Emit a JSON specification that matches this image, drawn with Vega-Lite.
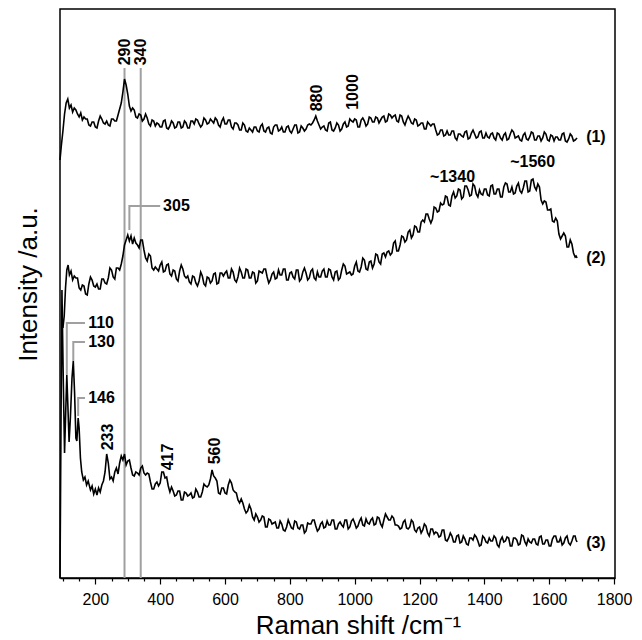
{
  "$schema": "https://vega.github.io/schema/vega-lite/v6.json",
  "width": 555,
  "height": 569,
  "autosize": "none",
  "padding": {"left": 60, "top": 9, "right": 27, "bottom": 62},
  "background": "white",
  "config": {
    "view": {"stroke": "black", "strokeWidth": 1.5},
    "font": "Liberation Sans"
  },
  "datasets": {
    "spectra": [
      {"s":1,"x":91,"i":418},{"s":1,"x":95,"i":432},{"s":1,"x":100,"i":447},{"s":1,"x":105,"i":464},{"s":1,"x":110,"i":475},{"s":1,"x":115,"i":479},{"s":1,"x":120,"i":470},{"s":1,"x":125,"i":473},{"s":1,"x":130,"i":466},{"s":1,"x":135,"i":470},{"s":1,"x":140,"i":468},{"s":1,"x":145,"i":464},{"s":1,"x":150,"i":461},{"s":1,"x":155,"i":465},{"s":1,"x":160,"i":458},{"s":1,"x":165,"i":461},{"s":1,"x":170,"i":459},{"s":1,"x":180,"i":453},{"s":1,"x":190,"i":456},{"s":1,"x":200,"i":451},{"s":1,"x":210,"i":457},{"s":1,"x":220,"i":459},{"s":1,"x":230,"i":454},{"s":1,"x":240,"i":453},{"s":1,"x":250,"i":459},{"s":1,"x":260,"i":457},{"s":1,"x":270,"i":463},{"s":1,"x":275,"i":469},{"s":1,"x":280,"i":475},{"s":1,"x":285,"i":486},{"s":1,"x":290,"i":499},{"s":1,"x":295,"i":493},{"s":1,"x":300,"i":484},{"s":1,"x":305,"i":472},{"s":1,"x":310,"i":467},{"s":1,"x":320,"i":468},{"s":1,"x":330,"i":460},{"s":1,"x":340,"i":463},{"s":1,"x":350,"i":459},{"s":1,"x":360,"i":460},{"s":1,"x":370,"i":452},{"s":1,"x":380,"i":457},{"s":1,"x":390,"i":455},{"s":1,"x":400,"i":451},{"s":1,"x":410,"i":457},{"s":1,"x":420,"i":450},{"s":1,"x":430,"i":452},{"s":1,"x":440,"i":455},{"s":1,"x":450,"i":451},{"s":1,"x":460,"i":456},{"s":1,"x":470,"i":451},{"s":1,"x":480,"i":455},{"s":1,"x":490,"i":450},{"s":1,"x":500,"i":457},{"s":1,"x":510,"i":459},{"s":1,"x":520,"i":454},{"s":1,"x":530,"i":453},{"s":1,"x":540,"i":458},{"s":1,"x":550,"i":455},{"s":1,"x":560,"i":457},{"s":1,"x":570,"i":460},{"s":1,"x":580,"i":453},{"s":1,"x":590,"i":457},{"s":1,"x":600,"i":454},{"s":1,"x":610,"i":458},{"s":1,"x":620,"i":451},{"s":1,"x":630,"i":455},{"s":1,"x":640,"i":453},{"s":1,"x":650,"i":448},{"s":1,"x":660,"i":453},{"s":1,"x":670,"i":446},{"s":1,"x":680,"i":448},{"s":1,"x":690,"i":451},{"s":1,"x":700,"i":447},{"s":1,"x":710,"i":452},{"s":1,"x":720,"i":447},{"s":1,"x":730,"i":450},{"s":1,"x":740,"i":445},{"s":1,"x":750,"i":451},{"s":1,"x":760,"i":453},{"s":1,"x":770,"i":448},{"s":1,"x":780,"i":446},{"s":1,"x":790,"i":451},{"s":1,"x":800,"i":447},{"s":1,"x":810,"i":449},{"s":1,"x":820,"i":453},{"s":1,"x":830,"i":446},{"s":1,"x":840,"i":450},{"s":1,"x":850,"i":449},{"s":1,"x":860,"i":454},{"s":1,"x":870,"i":455},{"s":1,"x":880,"i":462},{"s":1,"x":890,"i":453},{"s":1,"x":900,"i":451},{"s":1,"x":910,"i":448},{"s":1,"x":920,"i":455},{"s":1,"x":930,"i":448},{"s":1,"x":940,"i":450},{"s":1,"x":950,"i":453},{"s":1,"x":960,"i":449},{"s":1,"x":970,"i":456},{"s":1,"x":980,"i":452},{"s":1,"x":990,"i":457},{"s":1,"x":1000,"i":459},{"s":1,"x":1010,"i":451},{"s":1,"x":1020,"i":458},{"s":1,"x":1030,"i":457},{"s":1,"x":1040,"i":454},{"s":1,"x":1050,"i":460},{"s":1,"x":1060,"i":456},{"s":1,"x":1070,"i":460},{"s":1,"x":1080,"i":458},{"s":1,"x":1090,"i":462},{"s":1,"x":1100,"i":457},{"s":1,"x":1110,"i":463},{"s":1,"x":1120,"i":462},{"s":1,"x":1130,"i":457},{"s":1,"x":1140,"i":463},{"s":1,"x":1150,"i":456},{"s":1,"x":1160,"i":458},{"s":1,"x":1170,"i":459},{"s":1,"x":1180,"i":454},{"s":1,"x":1190,"i":458},{"s":1,"x":1200,"i":453},{"s":1,"x":1210,"i":455},{"s":1,"x":1220,"i":449},{"s":1,"x":1230,"i":454},{"s":1,"x":1240,"i":454},{"s":1,"x":1250,"i":448},{"s":1,"x":1260,"i":444},{"s":1,"x":1270,"i":448},{"s":1,"x":1280,"i":443},{"s":1,"x":1290,"i":443},{"s":1,"x":1300,"i":447},{"s":1,"x":1310,"i":440},{"s":1,"x":1320,"i":444},{"s":1,"x":1330,"i":442},{"s":1,"x":1340,"i":446},{"s":1,"x":1350,"i":439},{"s":1,"x":1360,"i":445},{"s":1,"x":1370,"i":444},{"s":1,"x":1380,"i":441},{"s":1,"x":1390,"i":447},{"s":1,"x":1400,"i":440},{"s":1,"x":1410,"i":441},{"s":1,"x":1420,"i":444},{"s":1,"x":1430,"i":440},{"s":1,"x":1440,"i":445},{"s":1,"x":1450,"i":440},{"s":1,"x":1460,"i":443},{"s":1,"x":1470,"i":438},{"s":1,"x":1480,"i":444},{"s":1,"x":1490,"i":446},{"s":1,"x":1500,"i":441},{"s":1,"x":1510,"i":438},{"s":1,"x":1520,"i":443},{"s":1,"x":1530,"i":439},{"s":1,"x":1540,"i":441},{"s":1,"x":1550,"i":445},{"s":1,"x":1560,"i":438},{"s":1,"x":1570,"i":442},{"s":1,"x":1580,"i":440},{"s":1,"x":1590,"i":444},{"s":1,"x":1600,"i":437},{"s":1,"x":1610,"i":442},{"s":1,"x":1620,"i":441},{"s":1,"x":1630,"i":438},{"s":1,"x":1640,"i":444},{"s":1,"x":1650,"i":437},{"s":1,"x":1660,"i":439},{"s":1,"x":1670,"i":442},{"s":1,"x":1680,"i":438},{"s":1,"x":1686,"i":440},
      {"s":1,"x":175,"i":459},{"s":1,"x":185,"i":452},{"s":1,"x":195,"i":456},{"s":1,"x":205,"i":450},{"s":1,"x":215,"i":462},{"s":1,"x":225,"i":455},{"s":1,"x":235,"i":457},{"s":1,"x":245,"i":452},{"s":1,"x":255,"i":459},{"s":1,"x":265,"i":457},
      {"s":1,"x":315,"i":470},{"s":1,"x":325,"i":461},{"s":1,"x":335,"i":464},{"s":1,"x":345,"i":457},{"s":1,"x":355,"i":464},{"s":1,"x":365,"i":454},{"s":1,"x":375,"i":458},{"s":1,"x":385,"i":452},{"s":1,"x":395,"i":454},{"s":1,"x":405,"i":451},{"s":1,"x":415,"i":458},{"s":1,"x":425,"i":449},{"s":1,"x":435,"i":457},{"s":1,"x":445,"i":450},{"s":1,"x":455,"i":456},{"s":1,"x":465,"i":450},{"s":1,"x":475,"i":457},{"s":1,"x":485,"i":450},{"s":1,"x":495,"i":457},{"s":1,"x":505,"i":454},{"s":1,"x":515,"i":458},{"s":1,"x":525,"i":451},{"s":1,"x":535,"i":460},{"s":1,"x":545,"i":454},{"s":1,"x":555,"i":459},{"s":1,"x":565,"i":455},{"s":1,"x":575,"i":458},{"s":1,"x":585,"i":451},{"s":1,"x":595,"i":460},{"s":1,"x":605,"i":454},{"s":1,"x":615,"i":458},{"s":1,"x":625,"i":449},{"s":1,"x":635,"i":455},{"s":1,"x":645,"i":448},{"s":1,"x":655,"i":455},{"s":1,"x":665,"i":447},{"s":1,"x":675,"i":450},{"s":1,"x":685,"i":446},{"s":1,"x":695,"i":451},{"s":1,"x":705,"i":446},{"s":1,"x":715,"i":454},{"s":1,"x":725,"i":446},{"s":1,"x":735,"i":451},{"s":1,"x":745,"i":444},{"s":1,"x":755,"i":453},{"s":1,"x":765,"i":447},{"s":1,"x":775,"i":451},{"s":1,"x":785,"i":446},{"s":1,"x":795,"i":452},{"s":1,"x":805,"i":445},{"s":1,"x":815,"i":453},{"s":1,"x":825,"i":445},{"s":1,"x":835,"i":452},{"s":1,"x":845,"i":447},{"s":1,"x":855,"i":453},{"s":1,"x":865,"i":453},{"s":1,"x":875,"i":458},{"s":1,"x":885,"i":457},{"s":1,"x":895,"i":449},{"s":1,"x":905,"i":452},{"s":1,"x":915,"i":447},{"s":1,"x":925,"i":456},{"s":1,"x":935,"i":447},{"s":1,"x":945,"i":455},{"s":1,"x":955,"i":447},{"s":1,"x":965,"i":454},{"s":1,"x":975,"i":451},{"s":1,"x":985,"i":459},{"s":1,"x":995,"i":456},{"s":1,"x":1005,"i":458},{"s":1,"x":1015,"i":451},{"s":1,"x":1025,"i":460},{"s":1,"x":1035,"i":452},{"s":1,"x":1045,"i":461},{"s":1,"x":1055,"i":456},{"s":1,"x":1065,"i":461},{"s":1,"x":1075,"i":455},{"s":1,"x":1085,"i":461},{"s":1,"x":1095,"i":456},{"s":1,"x":1105,"i":464},{"s":1,"x":1115,"i":460},{"s":1,"x":1125,"i":463},{"s":1,"x":1135,"i":456},{"s":1,"x":1145,"i":462},{"s":1,"x":1155,"i":453},{"s":1,"x":1165,"i":462},{"s":1,"x":1175,"i":455},{"s":1,"x":1185,"i":459},{"s":1,"x":1195,"i":452},{"s":1,"x":1205,"i":455},{"s":1,"x":1215,"i":449},{"s":1,"x":1225,"i":456},{"s":1,"x":1235,"i":452},{"s":1,"x":1245,"i":454},{"s":1,"x":1255,"i":443},{"s":1,"x":1265,"i":448},{"s":1,"x":1275,"i":442},{"s":1,"x":1285,"i":447},{"s":1,"x":1295,"i":443},{"s":1,"x":1305,"i":447},{"s":1,"x":1315,"i":438},{"s":1,"x":1325,"i":444},{"s":1,"x":1335,"i":441},{"s":1,"x":1345,"i":447},{"s":1,"x":1355,"i":440},{"s":1,"x":1365,"i":448},{"s":1,"x":1375,"i":440},{"s":1,"x":1385,"i":446},{"s":1,"x":1395,"i":440},{"s":1,"x":1405,"i":445},{"s":1,"x":1415,"i":440},{"s":1,"x":1425,"i":445},{"s":1,"x":1435,"i":438},{"s":1,"x":1445,"i":444},{"s":1,"x":1455,"i":438},{"s":1,"x":1465,"i":445},{"s":1,"x":1475,"i":439},{"s":1,"x":1485,"i":448},{"s":1,"x":1495,"i":440},{"s":1,"x":1505,"i":442},{"s":1,"x":1515,"i":437},{"s":1,"x":1525,"i":445},{"s":1,"x":1535,"i":438},{"s":1,"x":1545,"i":446},{"s":1,"x":1555,"i":438},{"s":1,"x":1565,"i":442},{"s":1,"x":1575,"i":437},{"s":1,"x":1585,"i":446},{"s":1,"x":1595,"i":438},{"s":1,"x":1605,"i":443},{"s":1,"x":1615,"i":437},{"s":1,"x":1625,"i":441},{"s":1,"x":1635,"i":438},{"s":1,"x":1645,"i":445},{"s":1,"x":1655,"i":436},{"s":1,"x":1665,"i":444},{"s":1,"x":1675,"i":437},{"s":1,"x":1683,"i":439},

      {"s":2,"x":100,"i":250},{"s":2,"x":104,"i":262},{"s":2,"x":108,"i":290},{"s":2,"x":112,"i":308},{"s":2,"x":116,"i":313},{"s":2,"x":120,"i":303},{"s":2,"x":125,"i":307},{"s":2,"x":130,"i":298},{"s":2,"x":135,"i":302},{"s":2,"x":140,"i":300},{"s":2,"x":150,"i":290},{"s":2,"x":160,"i":293},{"s":2,"x":170,"i":284},{"s":2,"x":180,"i":294},{"s":2,"x":190,"i":298},{"s":2,"x":200,"i":291},{"s":2,"x":210,"i":289},{"s":2,"x":220,"i":299},{"s":2,"x":230,"i":295},{"s":2,"x":240,"i":300},{"s":2,"x":250,"i":308},{"s":2,"x":260,"i":299},{"s":2,"x":270,"i":310},{"s":2,"x":280,"i":314},{"s":2,"x":290,"i":333},{"s":2,"x":300,"i":343},{"s":2,"x":305,"i":337},{"s":2,"x":310,"i":342},{"s":2,"x":315,"i":334},{"s":2,"x":320,"i":340},{"s":2,"x":330,"i":333},{"s":2,"x":340,"i":338},{"s":2,"x":350,"i":328},{"s":2,"x":360,"i":317},{"s":2,"x":370,"i":322},{"s":2,"x":380,"i":308},{"s":2,"x":390,"i":309},{"s":2,"x":400,"i":313},{"s":2,"x":410,"i":306},{"s":2,"x":420,"i":313},{"s":2,"x":430,"i":304},{"s":2,"x":440,"i":308},{"s":2,"x":450,"i":299},{"s":2,"x":460,"i":307},{"s":2,"x":470,"i":309},{"s":2,"x":480,"i":300},{"s":2,"x":490,"i":296},{"s":2,"x":500,"i":302},{"s":2,"x":510,"i":295},{"s":2,"x":520,"i":297},{"s":2,"x":530,"i":302},{"s":2,"x":540,"i":292},{"s":2,"x":550,"i":300},{"s":2,"x":560,"i":297},{"s":2,"x":570,"i":305},{"s":2,"x":580,"i":295},{"s":2,"x":590,"i":305},{"s":2,"x":600,"i":305},{"s":2,"x":610,"i":300},{"s":2,"x":620,"i":309},{"s":2,"x":630,"i":298},{"s":2,"x":640,"i":301},{"s":2,"x":650,"i":306},{"s":2,"x":660,"i":300},{"s":2,"x":670,"i":308},{"s":2,"x":680,"i":300},{"s":2,"x":690,"i":305},{"s":2,"x":700,"i":297},{"s":2,"x":710,"i":306},{"s":2,"x":720,"i":309},{"s":2,"x":730,"i":301},{"s":2,"x":740,"i":298},{"s":2,"x":750,"i":306},{"s":2,"x":760,"i":300},{"s":2,"x":770,"i":303},{"s":2,"x":780,"i":309},{"s":2,"x":790,"i":298},{"s":2,"x":800,"i":305},{"s":2,"x":810,"i":301},{"s":2,"x":820,"i":308},{"s":2,"x":830,"i":297},{"s":2,"x":840,"i":306},{"s":2,"x":850,"i":305},{"s":2,"x":860,"i":300},{"s":2,"x":870,"i":309},{"s":2,"x":880,"i":298},{"s":2,"x":890,"i":301},{"s":2,"x":900,"i":307},{"s":2,"x":910,"i":301},{"s":2,"x":920,"i":309},{"s":2,"x":930,"i":301},{"s":2,"x":940,"i":306},{"s":2,"x":950,"i":298},{"s":2,"x":960,"i":308},{"s":2,"x":970,"i":312},{"s":2,"x":980,"i":305},{"s":2,"x":990,"i":303},{"s":2,"x":1000,"i":312},{"s":2,"x":1010,"i":307},{"s":2,"x":1020,"i":311},{"s":2,"x":1030,"i":318},{"s":2,"x":1040,"i":308},{"s":2,"x":1050,"i":317},{"s":2,"x":1060,"i":314},{"s":2,"x":1070,"i":323},{"s":2,"x":1080,"i":314},{"s":2,"x":1090,"i":325},{"s":2,"x":1100,"i":326},{"s":2,"x":1110,"i":323},{"s":2,"x":1120,"i":335},{"s":2,"x":1130,"i":327},{"s":2,"x":1140,"i":333},{"s":2,"x":1150,"i":341},{"s":2,"x":1160,"i":338},{"s":2,"x":1170,"i":348},{"s":2,"x":1180,"i":343},{"s":2,"x":1190,"i":351},{"s":2,"x":1200,"i":346},{"s":2,"x":1210,"i":358},{"s":2,"x":1220,"i":364},{"s":2,"x":1230,"i":359},{"s":2,"x":1240,"i":359},{"s":2,"x":1250,"i":370},{"s":2,"x":1260,"i":367},{"s":2,"x":1270,"i":373},{"s":2,"x":1280,"i":382},{"s":2,"x":1290,"i":373},{"s":2,"x":1300,"i":382},{"s":2,"x":1310,"i":380},{"s":2,"x":1320,"i":389},{"s":2,"x":1330,"i":379},{"s":2,"x":1340,"i":392},{"s":2,"x":1350,"i":388},{"s":2,"x":1360,"i":383},{"s":2,"x":1370,"i":392},{"s":2,"x":1380,"i":381},{"s":2,"x":1390,"i":384},{"s":2,"x":1400,"i":389},{"s":2,"x":1410,"i":383},{"s":2,"x":1420,"i":392},{"s":2,"x":1430,"i":384},{"s":2,"x":1440,"i":389},{"s":2,"x":1450,"i":381},{"s":2,"x":1460,"i":391},{"s":2,"x":1470,"i":394},{"s":2,"x":1480,"i":386},{"s":2,"x":1490,"i":384},{"s":2,"x":1500,"i":392},{"s":2,"x":1510,"i":387},{"s":2,"x":1520,"i":390},{"s":2,"x":1530,"i":397},{"s":2,"x":1540,"i":387},{"s":2,"x":1550,"i":399},{"s":2,"x":1560,"i":388},{"s":2,"x":1570,"i":391},{"s":2,"x":1580,"i":374},{"s":2,"x":1590,"i":376},{"s":2,"x":1600,"i":368},{"s":2,"x":1610,"i":357},{"s":2,"x":1620,"i":360},{"s":2,"x":1630,"i":344},{"s":2,"x":1640,"i":342},{"s":2,"x":1650,"i":342},{"s":2,"x":1660,"i":331},{"s":2,"x":1670,"i":334},{"s":2,"x":1680,"i":321},{"s":2,"x":1686,"i":320},
      {"s":2,"x":145,"i":300},{"s":2,"x":155,"i":288},{"s":2,"x":165,"i":292},{"s":2,"x":175,"i":283},{"s":2,"x":185,"i":301},{"s":2,"x":195,"i":292},{"s":2,"x":205,"i":294},{"s":2,"x":215,"i":289},{"s":2,"x":225,"i":299},{"s":2,"x":235,"i":294},{"s":2,"x":245,"i":310},{"s":2,"x":255,"i":301},{"s":2,"x":265,"i":310},{"s":2,"x":275,"i":308},{"s":2,"x":285,"i":322},{"s":2,"x":295,"i":338},{"s":2,"x":325,"i":335},{"s":2,"x":335,"i":330},{"s":2,"x":345,"i":338},{"s":2,"x":355,"i":320},{"s":2,"x":365,"i":324},{"s":2,"x":375,"i":310},{"s":2,"x":385,"i":311},{"s":2,"x":395,"i":307},{"s":2,"x":405,"i":316},{"s":2,"x":415,"i":307},{"s":2,"x":425,"i":314},{"s":2,"x":435,"i":302},{"s":2,"x":445,"i":307},{"s":2,"x":455,"i":297},{"s":2,"x":465,"i":313},{"s":2,"x":475,"i":302},{"s":2,"x":485,"i":302},{"s":2,"x":495,"i":294},{"s":2,"x":505,"i":301},{"s":2,"x":515,"i":292},{"s":2,"x":525,"i":306},{"s":2,"x":535,"i":294},{"s":2,"x":545,"i":301},{"s":2,"x":555,"i":295},{"s":2,"x":565,"i":304},{"s":2,"x":575,"i":294},{"s":2,"x":585,"i":305},{"s":2,"x":595,"i":302},{"s":2,"x":605,"i":307},{"s":2,"x":615,"i":300},{"s":2,"x":625,"i":306},{"s":2,"x":635,"i":296},{"s":2,"x":645,"i":310},{"s":2,"x":655,"i":300},{"s":2,"x":665,"i":309},{"s":2,"x":675,"i":300},{"s":2,"x":685,"i":306},{"s":2,"x":695,"i":295},{"s":2,"x":705,"i":307},{"s":2,"x":715,"i":305},{"s":2,"x":725,"i":309},{"s":2,"x":735,"i":295},{"s":2,"x":745,"i":304},{"s":2,"x":755,"i":299},{"s":2,"x":765,"i":308},{"s":2,"x":775,"i":303},{"s":2,"x":785,"i":309},{"s":2,"x":795,"i":298},{"s":2,"x":805,"i":306},{"s":2,"x":815,"i":299},{"s":2,"x":825,"i":308},{"s":2,"x":835,"i":299},{"s":2,"x":845,"i":310},{"s":2,"x":855,"i":298},{"s":2,"x":865,"i":307},{"s":2,"x":875,"i":300},{"s":2,"x":885,"i":306},{"s":2,"x":895,"i":301},{"s":2,"x":905,"i":309},{"s":2,"x":915,"i":301},{"s":2,"x":925,"i":308},{"s":2,"x":935,"i":298},{"s":2,"x":945,"i":307},{"s":2,"x":955,"i":300},{"s":2,"x":965,"i":314},{"s":2,"x":975,"i":304},{"s":2,"x":985,"i":306},{"s":2,"x":995,"i":304},{"s":2,"x":1005,"i":316},{"s":2,"x":1015,"i":306},{"s":2,"x":1025,"i":320},{"s":2,"x":1035,"i":309},{"s":2,"x":1045,"i":316},{"s":2,"x":1055,"i":310},{"s":2,"x":1065,"i":324},{"s":2,"x":1075,"i":316},{"s":2,"x":1085,"i":324},{"s":2,"x":1095,"i":321},{"s":2,"x":1105,"i":327},{"s":2,"x":1115,"i":325},{"s":2,"x":1125,"i":337},{"s":2,"x":1135,"i":327},{"s":2,"x":1145,"i":342},{"s":2,"x":1155,"i":336},{"s":2,"x":1165,"i":346},{"s":2,"x":1175,"i":340},{"s":2,"x":1185,"i":352},{"s":2,"x":1195,"i":346},{"s":2,"x":1205,"i":356},{"s":2,"x":1215,"i":356},{"s":2,"x":1225,"i":364},{"s":2,"x":1235,"i":355},{"s":2,"x":1245,"i":371},{"s":2,"x":1255,"i":366},{"s":2,"x":1265,"i":375},{"s":2,"x":1275,"i":374},{"s":2,"x":1285,"i":381},{"s":2,"x":1295,"i":372},{"s":2,"x":1305,"i":386},{"s":2,"x":1315,"i":382},{"s":2,"x":1325,"i":388},{"s":2,"x":1335,"i":381},{"s":2,"x":1345,"i":392},{"s":2,"x":1355,"i":382},{"s":2,"x":1365,"i":394},{"s":2,"x":1375,"i":384},{"s":2,"x":1385,"i":388},{"s":2,"x":1395,"i":383},{"s":2,"x":1405,"i":389},{"s":2,"x":1415,"i":382},{"s":2,"x":1425,"i":393},{"s":2,"x":1435,"i":384},{"s":2,"x":1445,"i":389},{"s":2,"x":1455,"i":381},{"s":2,"x":1465,"i":395},{"s":2,"x":1475,"i":386},{"s":2,"x":1485,"i":391},{"s":2,"x":1495,"i":385},{"s":2,"x":1505,"i":395},{"s":2,"x":1515,"i":385},{"s":2,"x":1525,"i":397},{"s":2,"x":1535,"i":386},{"s":2,"x":1545,"i":398},{"s":2,"x":1555,"i":391},{"s":2,"x":1565,"i":394},{"s":2,"x":1575,"i":378},{"s":2,"x":1585,"i":377},{"s":2,"x":1595,"i":368},{"s":2,"x":1605,"i":369},{"s":2,"x":1615,"i":356},{"s":2,"x":1625,"i":357},{"s":2,"x":1635,"i":339},{"s":2,"x":1645,"i":345},{"s":2,"x":1655,"i":331},{"s":2,"x":1665,"i":338},{"s":2,"x":1675,"i":325},{"s":2,"x":1683,"i":322},

      {"s":3,"x":91,"i":0},{"s":3,"x":94,"i":150},{"s":3,"x":97,"i":288},{"s":3,"x":101,"i":200},{"s":3,"x":105,"i":125},{"s":3,"x":109,"i":170},{"s":3,"x":112,"i":203},{"s":3,"x":115,"i":175},{"s":3,"x":119,"i":136},{"s":3,"x":123,"i":160},{"s":3,"x":128,"i":200},{"s":3,"x":132,"i":217},{"s":3,"x":136,"i":185},{"s":3,"x":140,"i":140},{"s":3,"x":143,"i":137},{"s":3,"x":147,"i":160},{"s":3,"x":150,"i":150},{"s":3,"x":154,"i":120},{"s":3,"x":158,"i":106},{"s":3,"x":163,"i":98},{"s":3,"x":168,"i":101},{"s":3,"x":173,"i":93},{"s":3,"x":178,"i":97},{"s":3,"x":185,"i":88},{"s":3,"x":190,"i":92},{"s":3,"x":195,"i":84},{"s":3,"x":200,"i":89},{"s":3,"x":205,"i":83},{"s":3,"x":210,"i":90},{"s":3,"x":215,"i":86},{"s":3,"x":220,"i":93},{"s":3,"x":225,"i":97},{"s":3,"x":230,"i":106},{"s":3,"x":235,"i":124},{"s":3,"x":240,"i":115},{"s":3,"x":245,"i":99},{"s":3,"x":250,"i":101},{"s":3,"x":255,"i":97},{"s":3,"x":260,"i":106},{"s":3,"x":265,"i":110},{"s":3,"x":270,"i":104},{"s":3,"x":275,"i":115},{"s":3,"x":280,"i":122},{"s":3,"x":285,"i":118},{"s":3,"x":290,"i":124},{"s":3,"x":295,"i":113},{"s":3,"x":300,"i":117},{"s":3,"x":310,"i":110},{"s":3,"x":320,"i":102},{"s":3,"x":330,"i":105},{"s":3,"x":340,"i":110},{"s":3,"x":350,"i":105},{"s":3,"x":360,"i":105},{"s":3,"x":370,"i":96},{"s":3,"x":380,"i":89},{"s":3,"x":390,"i":96},{"s":3,"x":400,"i":95},{"s":3,"x":410,"i":106},{"s":3,"x":415,"i":100},{"s":3,"x":420,"i":101},{"s":3,"x":430,"i":86},{"s":3,"x":440,"i":87},{"s":3,"x":450,"i":83},{"s":3,"x":460,"i":87},{"s":3,"x":470,"i":78},{"s":3,"x":480,"i":85},{"s":3,"x":490,"i":83},{"s":3,"x":500,"i":80},{"s":3,"x":510,"i":89},{"s":3,"x":520,"i":81},{"s":3,"x":530,"i":86},{"s":3,"x":540,"i":92},{"s":3,"x":550,"i":93},{"s":3,"x":560,"i":108},{"s":3,"x":565,"i":102},{"s":3,"x":570,"i":100},{"s":3,"x":580,"i":85},{"s":3,"x":590,"i":90},{"s":3,"x":600,"i":85},{"s":3,"x":610,"i":93},{"s":3,"x":620,"i":95},{"s":3,"x":630,"i":86},{"s":3,"x":640,"i":78},{"s":3,"x":650,"i":79},{"s":3,"x":660,"i":69},{"s":3,"x":670,"i":67},{"s":3,"x":680,"i":69},{"s":3,"x":690,"i":58},{"s":3,"x":700,"i":61},{"s":3,"x":710,"i":58},{"s":3,"x":720,"i":61},{"s":3,"x":730,"i":51},{"s":3,"x":740,"i":58},{"s":3,"x":750,"i":55},{"s":3,"x":760,"i":50},{"s":3,"x":770,"i":57},{"s":3,"x":780,"i":48},{"s":3,"x":790,"i":51},{"s":3,"x":800,"i":54},{"s":3,"x":810,"i":49},{"s":3,"x":820,"i":56},{"s":3,"x":830,"i":49},{"s":3,"x":840,"i":53},{"s":3,"x":850,"i":47},{"s":3,"x":860,"i":54},{"s":3,"x":870,"i":58},{"s":3,"x":880,"i":52},{"s":3,"x":890,"i":49},{"s":3,"x":900,"i":56},{"s":3,"x":910,"i":51},{"s":3,"x":920,"i":53},{"s":3,"x":930,"i":58},{"s":3,"x":940,"i":49},{"s":3,"x":950,"i":54},{"s":3,"x":960,"i":53},{"s":3,"x":970,"i":58},{"s":3,"x":980,"i":49},{"s":3,"x":990,"i":57},{"s":3,"x":1000,"i":55},{"s":3,"x":1010,"i":52},{"s":3,"x":1020,"i":60},{"s":3,"x":1030,"i":52},{"s":3,"x":1040,"i":55},{"s":3,"x":1050,"i":58},{"s":3,"x":1060,"i":53},{"s":3,"x":1070,"i":61},{"s":3,"x":1080,"i":54},{"s":3,"x":1090,"i":58},{"s":3,"x":1100,"i":61},{"s":3,"x":1110,"i":58},{"s":3,"x":1120,"i":60},{"s":3,"x":1130,"i":53},{"s":3,"x":1140,"i":49},{"s":3,"x":1150,"i":56},{"s":3,"x":1160,"i":50},{"s":3,"x":1170,"i":51},{"s":3,"x":1180,"i":56},{"s":3,"x":1190,"i":46},{"s":3,"x":1200,"i":51},{"s":3,"x":1210,"i":48},{"s":3,"x":1220,"i":52},{"s":3,"x":1230,"i":42},{"s":3,"x":1240,"i":49},{"s":3,"x":1250,"i":46},{"s":3,"x":1260,"i":41},{"s":3,"x":1270,"i":48},{"s":3,"x":1280,"i":38},{"s":3,"x":1290,"i":40},{"s":3,"x":1300,"i":42},{"s":3,"x":1310,"i":36},{"s":3,"x":1320,"i":43},{"s":3,"x":1330,"i":36},{"s":3,"x":1340,"i":39},{"s":3,"x":1350,"i":33},{"s":3,"x":1360,"i":40},{"s":3,"x":1370,"i":43},{"s":3,"x":1380,"i":37},{"s":3,"x":1390,"i":33},{"s":3,"x":1400,"i":40},{"s":3,"x":1410,"i":35},{"s":3,"x":1420,"i":37},{"s":3,"x":1430,"i":42},{"s":3,"x":1440,"i":33},{"s":3,"x":1450,"i":38},{"s":3,"x":1460,"i":36},{"s":3,"x":1470,"i":41},{"s":3,"x":1480,"i":32},{"s":3,"x":1490,"i":40},{"s":3,"x":1500,"i":38},{"s":3,"x":1510,"i":34},{"s":3,"x":1520,"i":42},{"s":3,"x":1530,"i":33},{"s":3,"x":1540,"i":36},{"s":3,"x":1550,"i":39},{"s":3,"x":1560,"i":34},{"s":3,"x":1570,"i":41},{"s":3,"x":1580,"i":34},{"s":3,"x":1590,"i":38},{"s":3,"x":1600,"i":32},{"s":3,"x":1610,"i":39},{"s":3,"x":1620,"i":42},{"s":3,"x":1630,"i":36},{"s":3,"x":1640,"i":33},{"s":3,"x":1650,"i":40},{"s":3,"x":1660,"i":35},{"s":3,"x":1670,"i":37},{"s":3,"x":1680,"i":42},{"s":3,"x":1686,"i":36},
      {"s":3,"x":305,"i":118},{"s":3,"x":315,"i":103},{"s":3,"x":325,"i":106},{"s":3,"x":335,"i":103},{"s":3,"x":345,"i":112},{"s":3,"x":355,"i":103},{"s":3,"x":365,"i":104},{"s":3,"x":375,"i":89},{"s":3,"x":385,"i":94},{"s":3,"x":395,"i":92},{"s":3,"x":405,"i":106},{"s":3,"x":425,"i":92},{"s":3,"x":435,"i":91},{"s":3,"x":445,"i":82},{"s":3,"x":455,"i":87},{"s":3,"x":465,"i":78},{"s":3,"x":475,"i":86},{"s":3,"x":485,"i":82},{"s":3,"x":495,"i":85},{"s":3,"x":505,"i":81},{"s":3,"x":515,"i":86},{"s":3,"x":525,"i":81},{"s":3,"x":535,"i":94},{"s":3,"x":545,"i":91},{"s":3,"x":555,"i":99},{"s":3,"x":575,"i":97},{"s":3,"x":585,"i":84},{"s":3,"x":595,"i":90},{"s":3,"x":605,"i":84},{"s":3,"x":615,"i":98},{"s":3,"x":625,"i":88},{"s":3,"x":635,"i":85},{"s":3,"x":645,"i":75},{"s":3,"x":655,"i":75},{"s":3,"x":665,"i":65},{"s":3,"x":675,"i":73},{"s":3,"x":685,"i":61},{"s":3,"x":695,"i":64},{"s":3,"x":705,"i":56},{"s":3,"x":715,"i":62},{"s":3,"x":725,"i":51},{"s":3,"x":735,"i":59},{"s":3,"x":745,"i":54},{"s":3,"x":755,"i":56},{"s":3,"x":765,"i":50},{"s":3,"x":775,"i":54},{"s":3,"x":785,"i":47},{"s":3,"x":795,"i":58},{"s":3,"x":805,"i":50},{"s":3,"x":815,"i":57},{"s":3,"x":825,"i":50},{"s":3,"x":835,"i":53},{"s":3,"x":845,"i":45},{"s":3,"x":855,"i":55},{"s":3,"x":865,"i":54},{"s":3,"x":875,"i":58},{"s":3,"x":885,"i":47},{"s":3,"x":895,"i":54},{"s":3,"x":905,"i":50},{"s":3,"x":915,"i":57},{"s":3,"x":925,"i":53},{"s":3,"x":935,"i":58},{"s":3,"x":945,"i":49},{"s":3,"x":955,"i":56},{"s":3,"x":965,"i":51},{"s":3,"x":975,"i":58},{"s":3,"x":985,"i":51},{"s":3,"x":995,"i":59},{"s":3,"x":1005,"i":50},{"s":3,"x":1015,"i":57},{"s":3,"x":1025,"i":53},{"s":3,"x":1035,"i":59},{"s":3,"x":1045,"i":54},{"s":3,"x":1055,"i":60},{"s":3,"x":1065,"i":54},{"s":3,"x":1075,"i":60},{"s":3,"x":1085,"i":51},{"s":3,"x":1095,"i":64},{"s":3,"x":1105,"i":58},{"s":3,"x":1115,"i":62},{"s":3,"x":1125,"i":53},{"s":3,"x":1135,"i":52},{"s":3,"x":1145,"i":50},{"s":3,"x":1155,"i":58},{"s":3,"x":1165,"i":49},{"s":3,"x":1175,"i":58},{"s":3,"x":1185,"i":48},{"s":3,"x":1195,"i":50},{"s":3,"x":1205,"i":45},{"s":3,"x":1215,"i":54},{"s":3,"x":1225,"i":45},{"s":3,"x":1235,"i":49},{"s":3,"x":1245,"i":44},{"s":3,"x":1255,"i":45},{"s":3,"x":1265,"i":42},{"s":3,"x":1275,"i":48},{"s":3,"x":1285,"i":37},{"s":3,"x":1295,"i":45},{"s":3,"x":1305,"i":36},{"s":3,"x":1315,"i":42},{"s":3,"x":1325,"i":35},{"s":3,"x":1335,"i":42},{"s":3,"x":1345,"i":34},{"s":3,"x":1355,"i":40},{"s":3,"x":1365,"i":38},{"s":3,"x":1375,"i":41},{"s":3,"x":1385,"i":32},{"s":3,"x":1395,"i":42},{"s":3,"x":1405,"i":36},{"s":3,"x":1415,"i":40},{"s":3,"x":1425,"i":37},{"s":3,"x":1435,"i":40},{"s":3,"x":1445,"i":31},{"s":3,"x":1455,"i":41},{"s":3,"x":1465,"i":37},{"s":3,"x":1475,"i":40},{"s":3,"x":1485,"i":32},{"s":3,"x":1495,"i":40},{"s":3,"x":1505,"i":33},{"s":3,"x":1515,"i":43},{"s":3,"x":1525,"i":36},{"s":3,"x":1535,"i":39},{"s":3,"x":1545,"i":35},{"s":3,"x":1555,"i":39},{"s":3,"x":1565,"i":33},{"s":3,"x":1575,"i":42},{"s":3,"x":1585,"i":34},{"s":3,"x":1595,"i":38},{"s":3,"x":1605,"i":32},{"s":3,"x":1615,"i":42},{"s":3,"x":1625,"i":36},{"s":3,"x":1635,"i":40},{"s":3,"x":1645,"i":35},{"s":3,"x":1655,"i":42},{"s":3,"x":1665,"i":33},{"s":3,"x":1675,"i":42},{"s":3,"x":1683,"i":38}
    ],
    "guides": [
      {"x": 290, "i": 0, "i2": 510},
      {"x": 340, "i": 0, "i2": 510}
    ],
    "brackets": [
      {"b":"305","o":1,"x":305,"i":348},{"b":"305","o":2,"x":305,"i":372},{"b":"305","o":3,"x":400,"i":372},
      {"b":"110","o":1,"x":112,"i":203},{"b":"110","o":2,"x":112,"i":255},{"b":"110","o":3,"x":168,"i":255},
      {"b":"130","o":1,"x":132,"i":217},{"b":"130","o":2,"x":132,"i":236},{"b":"130","o":3,"x":168,"i":236},
      {"b":"146","o":1,"x":147,"i":162},{"b":"146","o":2,"x":147,"i":180},{"b":"146","o":3,"x":168,"i":180}
    ],
    "vlabels": [
      {"t":"290","x":290,"i":526},{"t":"340","x":340,"i":526},
      {"t":"880","x":884,"i":480},{"t":"1000","x":994,"i":486},
      {"t":"233","x":240,"i":141},{"t":"417","x":424,"i":121},{"t":"560","x":568,"i":127}
    ],
    "hlabels": [
      {"t":"305","x":409,"i":372},{"t":"110","x":178,"i":255},{"t":"130","x":178,"i":236},{"t":"146","x":178,"i":180},
      {"t":"(1)","x":1714,"i":441},{"t":"(2)","x":1714,"i":320},{"t":"(3)","x":1714,"i":35}
    ],
    "clabels": [
      {"t":"~1340","x":1302,"i":401},{"t":"~1560","x":1549,"i":416}
    ]
  },
  "encoding": {
    "x": {
      "field": "x", "type": "quantitative",
      "scale": {"domain": [91, 1803], "nice": false, "zero": false},
      "axis": {
        "title": "Raman shift /cm⁻¹",
        "titleFont": "Liberation Sans", "titleFontSize": 26, "titleFontWeight": "normal", "titleColor": "black",
        "titleX": 298, "titlePadding": 5,
        "values": [100,150,200,250,300,350,400,450,500,550,600,650,700,750,800,850,900,950,1000,1050,1100,1150,1200,1250,1300,1350,1400,1450,1500,1550,1600,1650,1700,1750,1800],
        "labelExpr": "datum.value % 200 === 0 ? datum.label : ''",
        "format": "d",
        "labelFont": "Liberation Sans", "labelFontSize": 16, "labelColor": "black", "labelPadding": 7,
        "labelOverlap": false, "labelFlush": false,
        "tickSize": {"condition": {"test": "datum.value % 200 === 0", "value": 6}, "value": 3},
        "tickColor": "black", "tickWidth": 1.2,
        "domainColor": "black", "domainWidth": 1.5,
        "grid": false
      }
    },
    "y": {
      "field": "i", "type": "quantitative",
      "scale": {"domain": [0, 569], "nice": false, "zero": false},
      "axis": {
        "title": "Intensity /a.u.",
        "titleFont": "Liberation Sans", "titleFontSize": 26, "titleFontWeight": "normal", "titleColor": "black",
        "titlePadding": 19, "titleY": 275,
        "labels": false, "ticks": false, "domain": false, "grid": false
      }
    }
  },
  "layer": [
    {
      "data": {"name": "guides"},
      "mark": {"type": "rule", "color": "#a0a0a0", "strokeWidth": 2},
      "encoding": {"y2": {"field": "i2"}}
    },
    {
      "data": {"name": "brackets"},
      "mark": {"type": "line", "color": "#a0a0a0", "strokeWidth": 2},
      "encoding": {"detail": {"field": "b"}, "order": {"field": "o"}}
    },
    {
      "data": {"name": "spectra"},
      "mark": {"type": "line", "color": "black", "strokeWidth": 1.6},
      "encoding": {"detail": {"field": "s"}, "order": {"field": "x", "type": "quantitative"}}
    },
    {
      "data": {"name": "vlabels"},
      "mark": {"type": "text", "angle": 270, "align": "center", "baseline": "middle", "font": "Liberation Sans", "fontWeight": "bold", "fontSize": 16, "color": "black"},
      "encoding": {"text": {"field": "t"}}
    },
    {
      "data": {"name": "hlabels"},
      "mark": {"type": "text", "align": "left", "baseline": "middle", "font": "Liberation Sans", "fontWeight": "bold", "fontSize": 16, "color": "black"},
      "encoding": {"text": {"field": "t"}}
    },
    {
      "data": {"name": "clabels"},
      "mark": {"type": "text", "align": "center", "baseline": "middle", "font": "Liberation Sans", "fontWeight": "bold", "fontSize": 16, "color": "black"},
      "encoding": {"text": {"field": "t"}}
    }
  ]
}
